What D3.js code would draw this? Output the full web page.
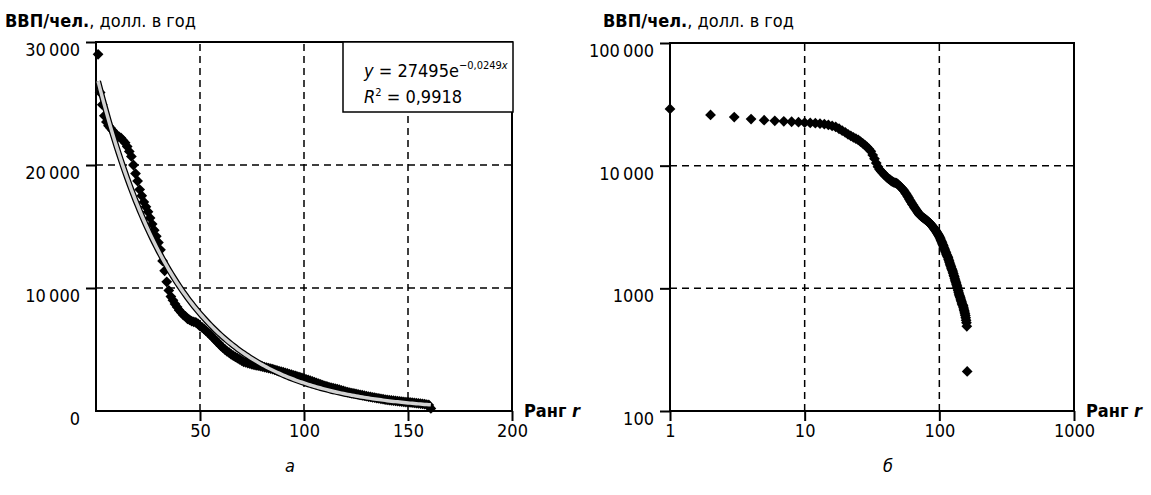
<!DOCTYPE html>
<html>
<head>
<meta charset="utf-8">
<script src="https://cdn.jsdelivr.net/npm/d3@7"></script>
<style>
body { margin: 0; background: #fff; }
svg text { font-family: "Liberation Sans Narrow", "DejaVu Sans Condensed", "Arial Narrow", sans-serif; font-stretch: condensed; font-size: 18px; fill: #000; }
</style>
</head>
<body>
<svg id="chart" width="1151" height="495"></svg>
<script>
// GDP per capita (USD per year), countries sorted by rank
var gdp = [
    29000, 25900, 24900, 24000, 23500, 23200, 23000, 22800, 22600, 22400,
    22300, 22200, 22000, 21800, 21500, 21100, 20700, 20000, 19300, 18700,
    18000, 17500, 17000, 16600, 16200, 15700, 15200, 14700, 14200, 13700,
    13100, 12200, 11400, 10500, 9800, 9300, 9000, 8700, 8450, 8200,
    8000, 7800, 7700, 7500, 7400, 7300, 7250, 7200, 7100, 6900,
    6800, 6650, 6500, 6350, 6200, 6000, 5850, 5650, 5500, 5300,
    5150, 5000, 4850, 4750, 4600, 4500, 4400, 4300, 4200, 4100,
    4000, 3950, 3900, 3850, 3800, 3760, 3720, 3680, 3640, 3600,
    3560, 3520, 3480, 3440, 3400, 3350, 3300, 3250, 3200, 3150,
    3100, 3050, 3000, 2950, 2900, 2850, 2800, 2750, 2700, 2650,
    2580, 2520, 2460, 2400, 2340, 2280, 2220, 2160, 2100, 2050,
    2000, 1950, 1900, 1860, 1820, 1780, 1730, 1680, 1630, 1580,
    1540, 1500, 1460, 1430, 1400, 1360, 1320, 1280, 1250, 1210,
    1170, 1140, 1110, 1080, 1050, 1020, 990, 960, 930, 900,
    880, 860, 840, 820, 800, 780, 760, 740, 730, 720,
    700, 680, 660, 640, 620, 600, 575, 550, 525, 490,
    210
];

// exponential trend from the chart: y = 27495 e^(-0,0249x)
var fitA = 27495, fitB = -0.0249;

var linXTicks = [50, 100, 150, 200],
    linYTicks = [0, 10000, 20000, 30000],
    linXGrid = [50, 100, 150],
    linYGrid = [10000, 20000];

var logXTicks = [1, 10, 100, 1000],
    logYTicks = [100, 1000, 10000, 100000],
    logXGrid = [10, 100],
    logYGrid = [1000, 10000];

var points = gdp.map(function(v, i) { return {rank: i + 1, value: v}; });

var svg = d3.select("#chart");
svg.append("rect").attr("width", 1151).attr("height", 495).attr("fill", "#fff");

// "30 000" style, but 4-digit numbers stay whole
function fmtNum(v) {
    if (v < 10000) return String(v);
    return d3.format(",")(v).replace(/,/g, "\u2009");
}

var diamond = d3.symbol().type(d3.symbolSquare).size(58);

function drawPanel(p) {
    var g = svg.append("g");

    // dashed grid
    g.selectAll(".gx").data(p.xGrid).enter().append("line")
        .attr("x1", p.x).attr("x2", p.x)
        .attr("y1", p.y.range()[0]).attr("y2", p.y.range()[1])
        .attr("stroke", "#000").attr("stroke-width", 1.5)
        .attr("stroke-dasharray", "7,5");
    g.selectAll(".gy").data(p.yGrid).enter().append("line")
        .attr("x1", p.x.range()[0]).attr("x2", p.x.range()[1])
        .attr("y1", p.y).attr("y2", p.y)
        .attr("stroke", "#000").attr("stroke-width", 1.5)
        .attr("stroke-dasharray", "7,5");

    // frame
    g.append("rect")
        .attr("x", p.x.range()[0]).attr("y", p.y.range()[1])
        .attr("width", p.x.range()[1] - p.x.range()[0])
        .attr("height", p.y.range()[0] - p.y.range()[1])
        .attr("fill", "none").attr("stroke", "#000").attr("stroke-width", 2);

    var xAxis = d3.axisBottom(p.x).tickValues(p.xTicks).tickSize(10).tickPadding(3)
        .tickFormat(function(d) { return String(d); });
    var yAxis = d3.axisLeft(p.y).tickValues(p.yTicks).tickSize(10).tickPadding(6)
        .tickFormat(fmtNum);

    var gx = g.append("g").attr("transform", "translate(0," + p.y.range()[0] + ")").call(xAxis);
    var gy = g.append("g").attr("transform", "translate(" + p.x.range()[0] + ",0)").call(yAxis);
    [gx, gy].forEach(function(a) {
        a.select(".domain").remove();
        a.selectAll("line").attr("stroke", "#000").attr("stroke-width", 2);
        a.selectAll("text").attr("font-family", null).attr("font-size", null);
    });
    gy.selectAll("text").attr("dy", "0.75em");
    if (p.hideZero) {
        gy.selectAll(".tick").filter(function(d) { return d === 0; }).select("line").remove();
    }

    // data points
    g.selectAll(".pt").data(points).enter().append("path")
        .attr("d", diamond)
        .attr("transform", function(d) {
            return "translate(" + p.x(d.rank) + "," + p.y(d.value) + ") rotate(45)";
        })
        .attr("fill", "#000");

    // axis titles
    var t = svg.append("text").attr("x", p.titleX).attr("y", 27);
    t.append("tspan").attr("font-weight", "bold").text("ВВП/чел.");
    t.append("tspan").text(", долл. в год");

    var r = svg.append("text").attr("x", p.x.range()[1] + 12).attr("y", p.y.range()[0] + 6)
        .attr("font-weight", "bold");
    r.append("tspan").text("Ранг ");
    r.append("tspan").attr("font-style", "italic").text("r");

    svg.append("text").attr("x", p.captionX).attr("y", 472)
        .attr("text-anchor", "middle").attr("font-style", "italic").text(p.caption);

    return g;
}

// a: linear axes
var xA = d3.scaleLinear().domain([0, 200]).range([96, 512]);
var yA = d3.scaleLinear().domain([0, 30000]).range([411, 42]);
var gA = drawPanel({x: xA, y: yA, xTicks: linXTicks, yTicks: linYTicks,
    xGrid: linXGrid, yGrid: linYGrid, titleX: 5, captionX: 290, caption: "а", hideZero: true});

// trend line, double stroke
var trend = d3.range(1, gdp.length + 0.01, 1).map(function(r) {
    return {rank: r, value: fitA * Math.exp(fitB * r)};
});
var trendLine = d3.line().x(function(d) { return xA(d.rank); }).y(function(d) { return yA(d.value); });
gA.append("path").datum(trend).attr("d", trendLine)
    .attr("fill", "none").attr("stroke", "#000").attr("stroke-width", 6);
gA.append("path").datum(trend).attr("d", trendLine)
    .attr("fill", "none").attr("stroke", "#d2d2d2").attr("stroke-width", 3.5);

// equation box
gA.append("rect").attr("x", 343).attr("y", 42).attr("width", 170).attr("height", 70)
    .attr("fill", "#fff").attr("stroke", "#000").attr("stroke-width", 1.5);
var eq1 = gA.append("text").attr("x", 364).attr("y", 77);
eq1.append("tspan").attr("font-style", "italic").text("y");
eq1.append("tspan").text(" = 27495e");
eq1.append("tspan").attr("font-size", "11px").attr("dy", -8).text("\u22120,0249");
eq1.append("tspan").attr("font-size", "11px").attr("font-style", "italic").text("x");
var eq2 = gA.append("text").attr("x", 364).attr("y", 103);
eq2.append("tspan").attr("font-style", "italic").text("R");
eq2.append("tspan").attr("font-size", "11px").attr("dy", -7).text("2");
eq2.append("tspan").attr("dy", 7).text(" = 0,9918");

// б: log-log axes
var xB = d3.scaleLog().domain([1, 1000]).range([670, 1074]);
var yB = d3.scaleLog().domain([100, 100000]).range([411, 43]);
drawPanel({x: xB, y: yB, xTicks: logXTicks, yTicks: logYTicks,
    xGrid: logXGrid, yGrid: logYGrid, titleX: 603, captionX: 888, caption: "б", hideZero: false});
</script>
</body>
</html>
